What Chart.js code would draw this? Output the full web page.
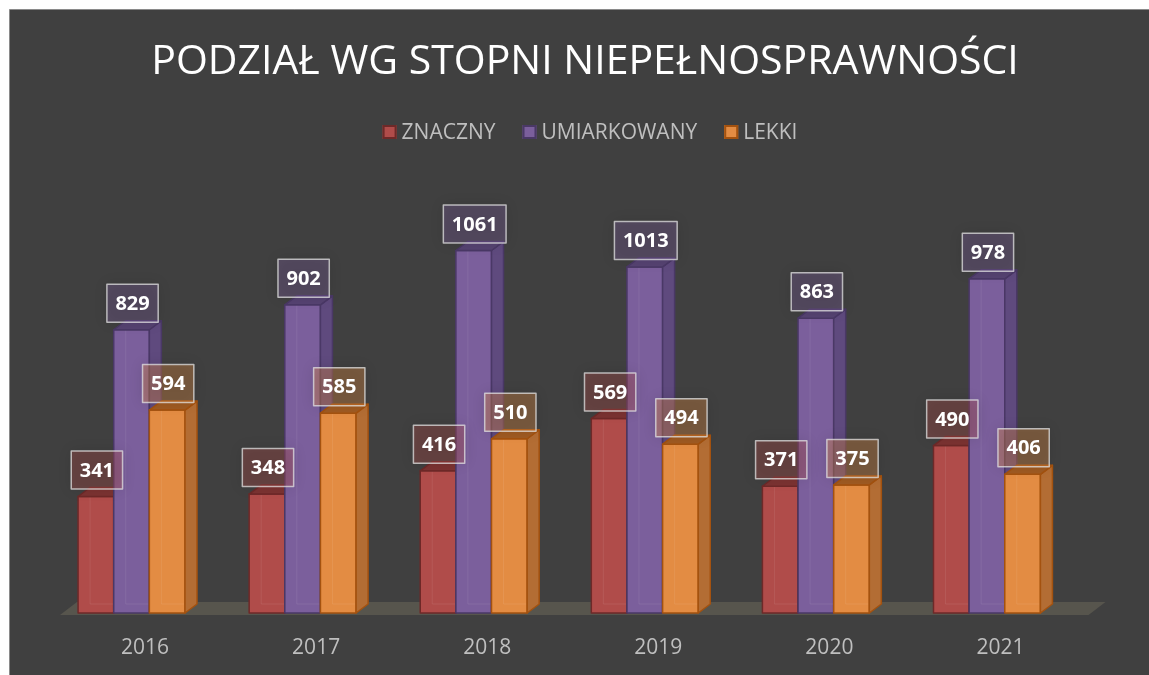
<!DOCTYPE html>
<html>
<head>
<meta charset="utf-8">
<script src="https://cdn.jsdelivr.net/npm/chart.js@4.4.0/dist/chart.umd.min.js"></script>
<style>
  html, body { margin: 0; padding: 0; background: #fff; overflow: hidden; }
  #wrap { width: 1149px; height: 675px; }
</style>
</head>
<body>
<div id="wrap"><canvas id="chart"></canvas></div>
<script>
// ===== Data =====
const years = ["2016", "2017", "2018", "2019", "2020", "2021"];
const znaczny = [341, 348, 416, 569, 371, 490];
const umiarkowany = [829, 902, 1061, 1013, 863, 978];
const lekki = [594, 585, 510, 494, 375, 406];
const seriesNames = ["ZNACZNY", "UMIARKOWANY", "LEKKI"];
const titleText = "PODZIAŁ WG STOPNI NIEPEŁNOSPRAWNOŚCI";

// front / side / top / edge colours per series
const palette = [
  { front: "#b04c4a", side: "#8f3d3b", top: "#7c3332", edge: "#6e2928", rgb: [176, 76, 74] },
  { front: "#7b5f9c", side: "#5f4a7e", top: "#564372", edge: "#4a3866", rgb: [123, 95, 156] },
  { front: "#e38c43", side: "#b36d34", top: "#a05b22", edge: "#a4520f", rgb: [227, 140, 67] }
];

const FONT = "'Open Sans', 'DejaVu Sans', sans-serif";
const DX = 12, DY = 9; // bar depth

function poly(ctx, pts) {
  ctx.beginPath();
  ctx.moveTo(pts[0][0], pts[0][1]);
  for (let i = 1; i < pts.length; i++) ctx.lineTo(pts[i][0], pts[i][1]);
  ctx.closePath();
}

// ===== Plugins =====
const backdrop = {
  id: "backdrop",
  beforeDraw(chart) {
    const { ctx, width, height } = chart;
    ctx.save();
    ctx.fillStyle = "#ffffff";
    ctx.fillRect(0, 0, width, height);
    ctx.fillStyle = "#404040";
    ctx.fillRect(9.5, 9.5, width, height);
    ctx.strokeStyle = "#8a8a8a";
    ctx.lineWidth = 1;
    ctx.beginPath();
    ctx.moveTo(9.5, height);
    ctx.lineTo(9.5, 9.5);
    ctx.lineTo(width, 9.5);
    ctx.stroke();

    // title
    ctx.fillStyle = "#ffffff";
    ctx.font = `41px ${FONT}`;
    ctx.textAlign = "center";
    ctx.textBaseline = "middle";
    ctx.fillText(titleText, 585, 62);

    // legend
    ctx.font = `21px ${FONT}`;
    const box = 14, gap = 5, spacing = 27;
    const widths = seriesNames.map(n => ctx.measureText(n).width);
    const total = widths.reduce((a, w) => a + box + gap + w, 0) + spacing * (seriesNames.length - 1);
    let x = 590 - total / 2;
    const y = 132;
    ctx.textAlign = "left";
    seriesNames.forEach((n, i) => {
      ctx.fillStyle = palette[i].front;
      ctx.fillRect(x, y - box / 2, box, box);
      ctx.strokeStyle = palette[i].edge;
      ctx.lineWidth = 2;
      ctx.strokeRect(x + 1, y - box / 2 + 1, box - 2, box - 2);
      ctx.fillStyle = "#bfbfbf";
      ctx.fillText(n, x + box + gap, y + 1);
      x += box + gap + widths[i] + spacing;
    });
    ctx.restore();
  },
  beforeDatasetsDraw(chart) {
    // floor
    const { ctx, chartArea } = chart;
    const base = chart.scales.y.getPixelForValue(0) + 2;
    ctx.save();
    ctx.fillStyle = "#57554d";
    poly(ctx, [
      [chartArea.left + 14, base],
      [chartArea.left + 14 + 17, base - 13],
      [chartArea.right + 33, base - 13],
      [chartArea.right + 16, base]
    ]);
    ctx.fill();
    ctx.restore();
  }
};

const bars3d = {
  id: "bars3d",
  afterDatasetsDraw(chart) {
    const ctx = chart.ctx;
    const metas = chart.data.datasets.map((_, i) => chart.getDatasetMeta(i));
    ctx.save();
    ctx.lineJoin = "round";
    years.forEach((_, j) => {
      metas.forEach((meta, i) => {
        const bar = meta.data[j];
        const p = palette[i];
        const l = bar.x - bar.width / 2, r = bar.x + bar.width / 2;
        const t = bar.y, b = bar.base;
        // front
        ctx.fillStyle = p.front;
        ctx.fillRect(l, t, r - l, b - t);
        // faint see-through back edges
        ctx.strokeStyle = "rgba(255,255,255,0.08)";
        ctx.lineWidth = 1;
        ctx.beginPath();
        ctx.moveTo(l + DX, t);
        ctx.lineTo(l + DX, b - DY);
        ctx.lineTo(r, b - DY);
        ctx.stroke();
        ctx.lineWidth = 1.5;
        ctx.strokeStyle = p.edge;
        ctx.strokeRect(l, t, r - l, b - t);
        // side
        ctx.fillStyle = p.side;
        poly(ctx, [[r, t], [r + DX, t - DY], [r + DX, b - DY], [r, b]]);
        ctx.fill();
        ctx.stroke();
        // top
        ctx.fillStyle = p.top;
        poly(ctx, [[l, t], [l + DX, t - DY], [r + DX, t - DY], [r, t]]);
        ctx.fill();
        ctx.stroke();
      });
    });

    // data labels
    ctx.font = `bold 20px ${FONT}`;
    ctx.textAlign = "center";
    ctx.textBaseline = "middle";
    metas.forEach((meta, i) => {
      const [cr, cg, cb] = palette[i].rgb;
      meta.data.forEach((bar, j) => {
        const txt = String(chart.data.datasets[i].data[j]);
        const w = ctx.measureText(txt).width + 17;
        const h = 38;
        const cx = bar.x + 1;
        const bottom = bar.y - 7.5;
        ctx.save();
        ctx.shadowColor = "rgba(0,0,0,0.35)";
        ctx.shadowBlur = 14;
        ctx.fillStyle = `rgba(${cr},${cg},${cb},0.35)`;
        ctx.fillRect(cx - w / 2, bottom - h, w, h);
        ctx.restore();
        ctx.strokeStyle = "rgba(225,225,225,0.75)";
        ctx.lineWidth = 1.5;
        ctx.strokeRect(cx - w / 2, bottom - h, w, h);
        ctx.fillStyle = "#ffffff";
        ctx.fillText(txt, cx, bottom - h / 2 + 1);
      });
    });
    ctx.restore();
  }
};

// ===== Chart =====
const seriesData = [znaczny, umiarkowany, lekki];

new Chart(document.getElementById("chart"), {
  type: "bar",
  data: {
    labels: years,
    datasets: seriesNames.map((name, i) => ({
      label: name,
      data: seriesData[i],
      backgroundColor: palette[i].front,
      borderWidth: 0,
      barPercentage: 1,
      categoryPercentage: 0.625
    }))
  },
  options: {
    responsive: true,
    maintainAspectRatio: false,
    animation: false,
    layout: { padding: { top: 203, left: 46, right: 76.5, bottom: 0 } },
    plugins: {
      legend: { display: false },
      title: { display: false },
      tooltip: { enabled: false }
    },
    scales: {
      x: {
        grid: { display: false, drawTicks: false },
        border: { display: false },
        ticks: {
          color: "#bfbfbf",
          font: { family: FONT, size: 21 },
          padding: 22,
          labelOffset: 13.5
        },
        afterFit(scale) { scale.height = 62; }
      },
      y: {
        display: false,
        min: 0,
        max: 1200
      }
    }
  },
  plugins: [backdrop, bars3d]
});
</script>
</body>
</html>
